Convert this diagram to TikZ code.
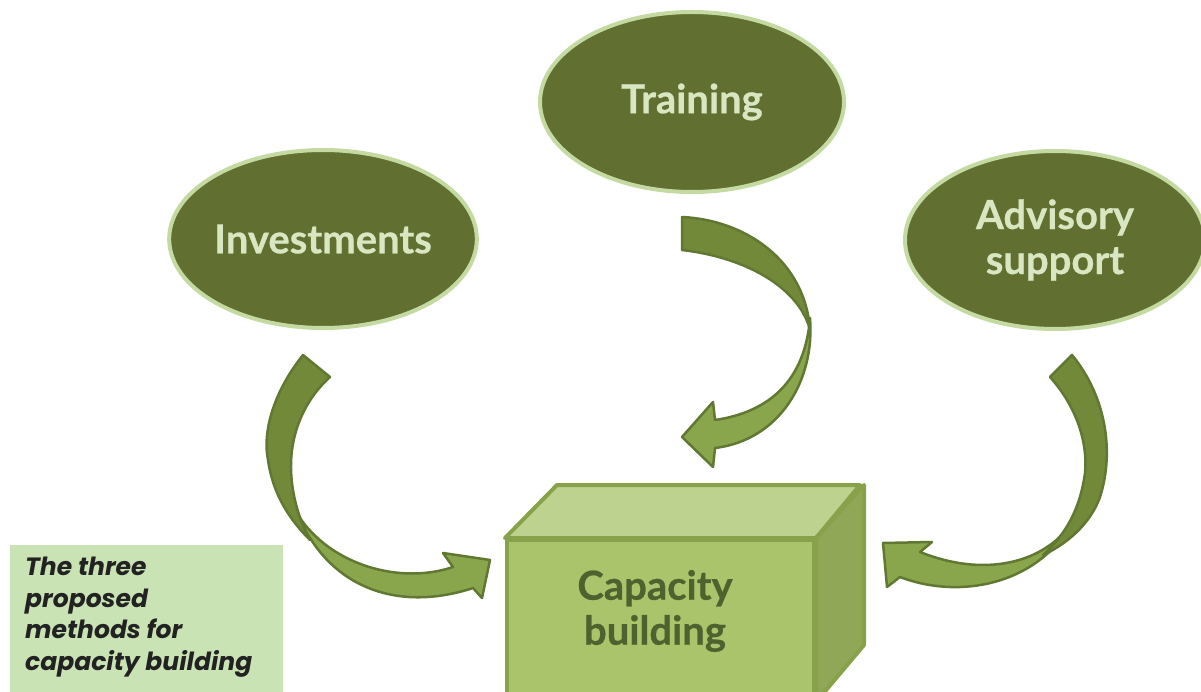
\documentclass[tikz,border=0pt]{standalone}
\usepackage{fontspec}
\setmainfont{Lato}
\newfontfamily\labelfont{Lato}[BoldFeatures={FakeBold=0.6}]
\newfontfamily\boxfont{Poppins}
\usetikzlibrary{shapes.geometric}
\definecolor{ellfill}{HTML}{617030}
\definecolor{ellborder}{HTML}{C5DAA3}
\definecolor{elltext}{HTML}{D8E6C2}
\definecolor{frontc}{HTML}{A9C46A}
\definecolor{topc}{HTML}{BDD28E}
\definecolor{sidec}{HTML}{8FA756}
\definecolor{boxedge}{HTML}{87A24A}
\definecolor{captext}{HTML}{4E6230}
\definecolor{arrdark}{HTML}{73893A}
\definecolor{arrlight}{HTML}{8AA64C}
\definecolor{arredge}{HTML}{617832}
\definecolor{notefill}{HTML}{C9E3B4}
\definecolor{notetext}{HTML}{222222}
\begin{document}
\begin{tikzpicture}[x=1pt,y=-1pt,
  method/.style={ellipse, draw=ellborder, line width=4pt, fill=ellfill, text=elltext,
    font=\labelfont\fontsize{40}{45}\selectfont\bfseries, align=center, inner sep=0pt},
  arrowpart/.style={draw=arredge, line width=2.5pt, line join=round},
  facestyle/.style={draw=boxedge, line width=4pt, line join=round}]
\useasboundingbox (0,0) rectangle (1201,692);
\clip (0,0) rectangle (1201,692);

% box
\node[facestyle, fill=frontc, minimum width=307pt, minimum height=160pt, anchor=north west, inner sep=0pt] (cap) at (505,538) {};
\filldraw[facestyle, fill=topc] (cap.north west) -- ++(52,-53) -- ++(303,0) -- (cap.north east) -- cycle;
\filldraw[facestyle, fill=sidec] (cap.north east) -- ++(48,-53) -- ++(0,160) -- (cap.south east) -- cycle;
\node[text=captext, font=\labelfont\fontsize{40}{45}\selectfont\bfseries, align=center] (captxt) at (655,611) {Capacity\\building};

% left arrow
\filldraw[arrowpart, fill=arrlight] (298,515) .. controls (330,565) and (400,585) .. (453,567) -- (443,553) -- (490,560) -- (482,598) -- (473,588) .. controls (400,612) and (330,590) .. (298,515) -- cycle;
\filldraw[arrowpart, fill=arrdark] (303,355) .. controls (275,390) and (262,430) .. (268,460) .. controls (273,495) and (290,520) .. (310,540) .. controls (296,515) and (288,480) .. (292,450) .. controls (296,420) and (310,395) .. (330,377) -- cycle;

% middle arrow
\filldraw[arrowpart, fill=arrlight] (810,318) .. controls (815,380) and (780,440) .. (715,448) -- (713,467) -- (682,437) -- (713,402) -- (715,420) .. controls (770,412) and (805,380) .. (810,318) -- cycle;
\filldraw[arrowpart, fill=arrdark] (682,217) .. controls (745,220) and (805,260) .. (810,330) .. controls (800,290) and (750,258) .. (682,250) -- cycle;

% right arrow
\filldraw[arrowpart, fill=arrlight] (1075,518) .. controls (1050,560) and (990,580) .. (920,552) -- (932,542) -- (883,543) -- (887,587) -- (900,577) .. controls (960,600) and (1040,585) .. (1075,518) -- cycle;
\filldraw[arrowpart, fill=arrdark] (1072,355) .. controls (1105,395) and (1115,450) .. (1100,497) .. controls (1090,525) and (1065,545) .. (1043,555) .. controls (1065,535) and (1080,510) .. (1085,473) .. controls (1088,440) and (1075,405) .. (1050,377) -- cycle;

% ellipses
\node[method, minimum width=306pt, minimum height=178pt] (inv) at (323,239) {Investments};
\node[method, minimum width=304pt, minimum height=180pt] (tra) at (692,102) {Training};
\node[method, minimum width=300pt, minimum height=178pt] (adv) at (1055,240) {Advisory\\support};

% note
\node[fill=notefill, anchor=north west, minimum width=273pt, minimum height=150pt, inner sep=0pt] (note) at (10,545) {};
\node[anchor=north west, text=notetext, align=left, inner sep=0pt,
  font=\boxfont\fontsize{25}{31.5}\selectfont\bfseries\itshape] (notetxt) at (25,557) {The three\\proposed\\methods for\\capacity building};
\end{tikzpicture}
\end{document}
